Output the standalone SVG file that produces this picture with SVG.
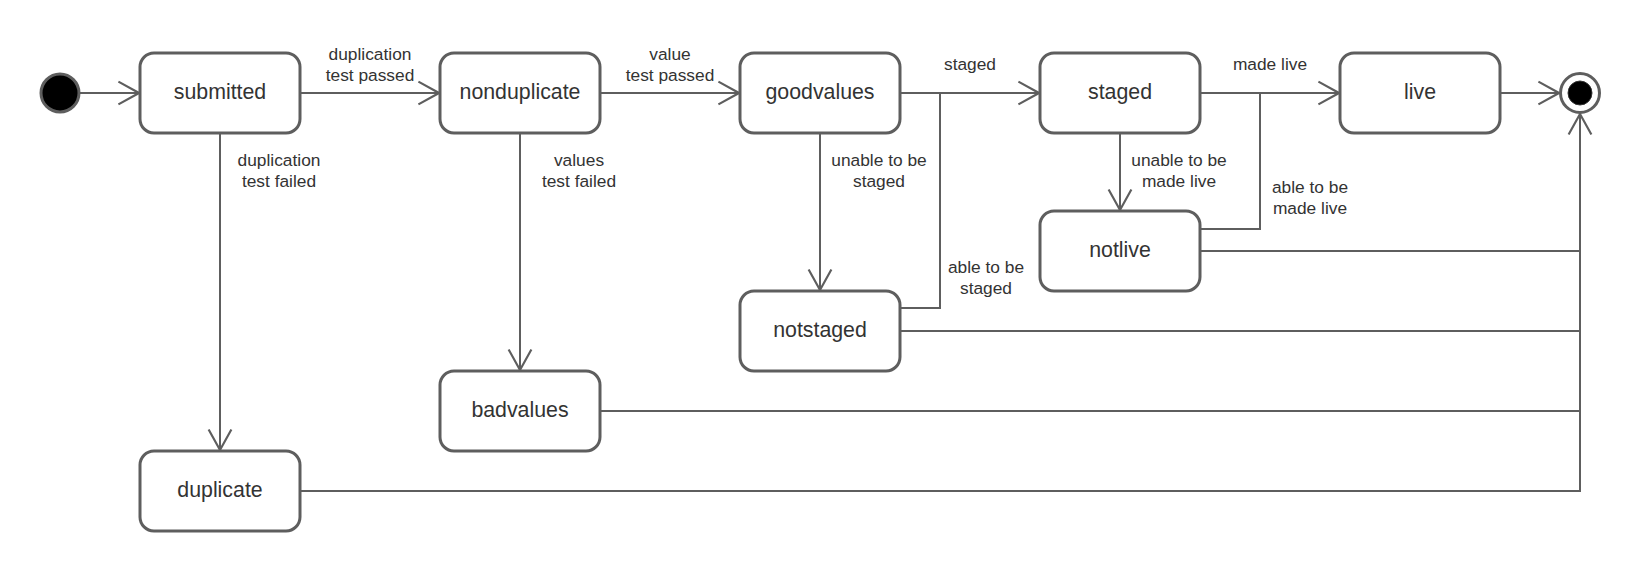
<svg xmlns="http://www.w3.org/2000/svg" width="1640" height="571" viewBox="0 0 1640 571">
<style>
  .box { fill: #ffffff; stroke: #5e5e5e; stroke-width: 3; }
  .node-label { font-family: "Liberation Sans", Arial, sans-serif; font-size: 21.33px; fill: #333333; text-anchor: middle; }
  .edge { fill: none; stroke: #5e5e5e; stroke-width: 2; }
  .edge-label { font-family: "Liberation Sans", Arial, sans-serif; font-size: 17.33px; fill: #333333; text-anchor: middle; }
</style>
<defs>
  <marker id="arrow" markerUnits="userSpaceOnUse" markerWidth="24" markerHeight="26" viewBox="-20 -12 22 24" refX="0" refY="0" orient="auto">
    <path d="M-19,-10.5 L0,0 L-19,10.5" fill="none" stroke="#5e5e5e" stroke-width="2"/>
  </marker>
</defs>
<rect width="1640" height="571" fill="#ffffff"/>

<g id="connectors">
  <path class="edge" d="M80,93 H139" marker-end="url(#arrow)"/>
  <path class="edge" d="M300,93 H439" marker-end="url(#arrow)"/>
  <path class="edge" d="M600,93 H739" marker-end="url(#arrow)"/>
  <path class="edge" d="M900,93 H1039" marker-end="url(#arrow)"/>
  <path class="edge" d="M1200,93 H1339" marker-end="url(#arrow)"/>
  <path class="edge" d="M1500,93 H1559" marker-end="url(#arrow)"/>
  <path class="edge" d="M220,133 V450" marker-end="url(#arrow)"/>
  <path class="edge" d="M520,133 V370" marker-end="url(#arrow)"/>
  <path class="edge" d="M820,133 V290" marker-end="url(#arrow)"/>
  <path class="edge" d="M1120,133 V210" marker-end="url(#arrow)"/>
  <path class="edge" d="M900,308 H940 V93"/>
  <path class="edge" d="M1200,229 H1260 V93"/>
  <path class="edge" d="M1200,251 H1580"/>
  <path class="edge" d="M900,331 H1580"/>
  <path class="edge" d="M600,411 H1580"/>
  <path class="edge" d="M300,491 H1580 V114" marker-end="url(#arrow)"/>

  <text class="edge-label" x="370" y="60">duplication</text>
  <text class="edge-label" x="370" y="81">test passed</text>
  <text class="edge-label" x="670" y="60">value</text>
  <text class="edge-label" x="670" y="81">test passed</text>
  <text class="edge-label" x="970" y="70">staged</text>
  <text class="edge-label" x="1270" y="70">made live</text>
  <text class="edge-label" x="279" y="166">duplication</text>
  <text class="edge-label" x="279" y="187">test failed</text>
  <text class="edge-label" x="579" y="166">values</text>
  <text class="edge-label" x="579" y="187">test failed</text>
  <text class="edge-label" x="879" y="166">unable to be</text>
  <text class="edge-label" x="879" y="187">staged</text>
  <text class="edge-label" x="1179" y="166">unable to be</text>
  <text class="edge-label" x="1179" y="187">made live</text>
  <text class="edge-label" x="1310" y="193">able to be</text>
  <text class="edge-label" x="1310" y="214">made live</text>
  <text class="edge-label" x="986" y="273">able to be</text>
  <text class="edge-label" x="986" y="294">staged</text>
</g>

<g id="initial">
  <circle cx="60" cy="93" r="19" fill="#000000" stroke="#5e5e5e" stroke-width="3"/>
</g>
<g id="submitted">
  <rect class="box" x="140" y="53" width="160" height="80" rx="14"/>
  <text class="node-label" x="220" y="99">submitted</text>
</g>
<g id="nonduplicate">
  <rect class="box" x="440" y="53" width="160" height="80" rx="14"/>
  <text class="node-label" x="520" y="99">nonduplicate</text>
</g>
<g id="goodvalues">
  <rect class="box" x="740" y="53" width="160" height="80" rx="14"/>
  <text class="node-label" x="820" y="99">goodvalues</text>
</g>
<g id="staged">
  <rect class="box" x="1040" y="53" width="160" height="80" rx="14"/>
  <text class="node-label" x="1120" y="99">staged</text>
</g>
<g id="live">
  <rect class="box" x="1340" y="53" width="160" height="80" rx="14"/>
  <text class="node-label" x="1420" y="99">live</text>
</g>
<g id="final">
  <circle cx="1580" cy="93" r="19.5" fill="#ffffff" stroke="#5e5e5e" stroke-width="3"/>
  <circle cx="1580" cy="93" r="12" fill="#000000" stroke="#333333" stroke-width="1"/>
</g>
<g id="notlive">
  <rect class="box" x="1040" y="211" width="160" height="80" rx="14"/>
  <text class="node-label" x="1120" y="256.5">notlive</text>
</g>
<g id="notstaged">
  <rect class="box" x="740" y="291" width="160" height="80" rx="14"/>
  <text class="node-label" x="820" y="336.5">notstaged</text>
</g>
<g id="badvalues">
  <rect class="box" x="440" y="371" width="160" height="80" rx="14"/>
  <text class="node-label" x="520" y="416.5">badvalues</text>
</g>
<g id="duplicate">
  <rect class="box" x="140" y="451" width="160" height="80" rx="14"/>
  <text class="node-label" x="220" y="496.5">duplicate</text>
</g>
</svg>
